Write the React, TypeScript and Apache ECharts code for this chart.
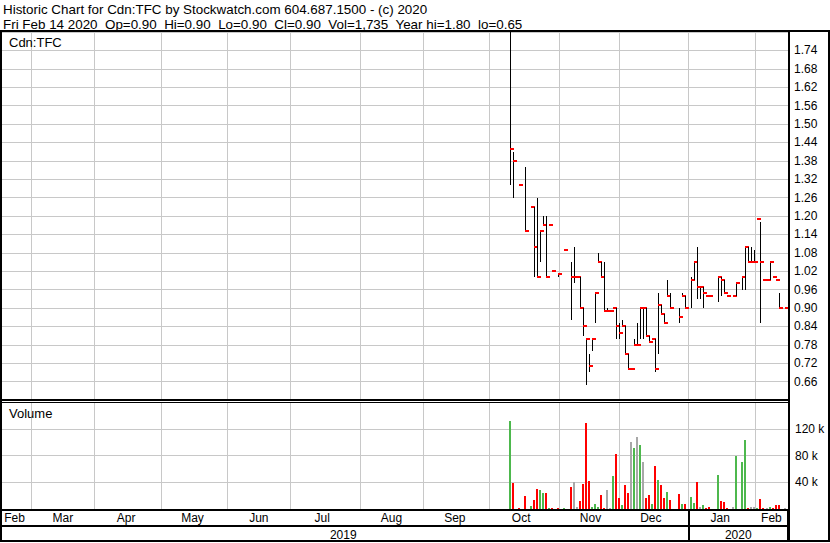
import React, { useEffect, useRef } from 'react';
import * as echarts from 'echarts';

const FONT = '"Liberation Sans", Arial, Helvetica, sans-serif';

const HEADER_LINE_1 = 'Historic Chart for Cdn:TFC by Stockwatch.com 604.687.1500 - (c) 2020';
const HEADER_LINE_2 = 'Fri Feb 14 2020  Op=0.90  Hi=0.90  Lo=0.90  Cl=0.90  Vol=1,735  Year hi=1.80  lo=0.65';
const SYMBOL_LABEL = 'Cdn:TFC';
const VOLUME_LABEL = 'Volume';

const RANGE_START = '2019-02-15';
const RANGE_END = '2020-02-14';
const MONTHS = ['2019-02', '2019-03', '2019-04', '2019-05', '2019-06', '2019-07', '2019-08', '2019-09', '2019-10', '2019-11', '2019-12', '2020-01', '2020-02'];
const MONTH_NAMES = ['Jan', 'Feb', 'Mar', 'Apr', 'May', 'Jun', 'Jul', 'Aug', 'Sep', 'Oct', 'Nov', 'Dec'];
const YEARS = ['2019', '2020'];

const tradeDates = [
  '2019-10-10', '2019-10-11', '2019-10-15', '2019-10-17', '2019-10-21', '2019-10-22', '2019-10-23', '2019-10-24', '2019-10-25', '2019-10-28',
  '2019-10-29', '2019-10-30', '2019-11-01', '2019-11-05', '2019-11-07', '2019-11-08', '2019-11-11', '2019-11-12', '2019-11-13', '2019-11-14',
  '2019-11-15', '2019-11-18', '2019-11-19', '2019-11-20', '2019-11-21', '2019-11-22', '2019-11-25', '2019-11-26', '2019-11-27', '2019-11-28',
  '2019-11-29', '2019-12-02', '2019-12-03', '2019-12-04', '2019-12-05', '2019-12-06', '2019-12-09', '2019-12-10', '2019-12-11', '2019-12-12',
  '2019-12-13', '2019-12-16', '2019-12-17', '2019-12-18', '2019-12-19', '2019-12-20', '2019-12-23', '2019-12-24', '2019-12-27', '2019-12-30',
  '2019-12-31', '2020-01-02', '2020-01-03', '2020-01-06', '2020-01-07', '2020-01-08', '2020-01-09', '2020-01-10', '2020-01-15', '2020-01-16',
  '2020-01-17', '2020-01-20', '2020-01-22', '2020-01-23', '2020-01-27', '2020-01-28', '2020-01-29', '2020-01-30', '2020-01-31', '2020-02-03',
  '2020-02-04', '2020-02-05', '2020-02-06', '2020-02-07', '2020-02-10', '2020-02-11', '2020-02-12', '2020-02-14',
];

const highs = [
  1.80, 1.41, 1.30, 1.36, 1.23, 1.23, 1.26, 1.15, 1.20, 1.20,
  1.17, 1.02, 1.01, 1.09, 1.05, 1.10, 1.00, 1.00, 0.90, 0.80,
  0.75, 0.80, 0.95, 1.08, 1.05, 1.05, 0.90, 0.89, 0.90, 0.90,
  0.85, 0.86, 0.84, 0.75, 0.70, 0.80, 0.85, 0.90, 0.90, 0.90,
  0.81, 0.80, 0.80, 0.95, 0.91, 0.88, 0.99, 0.95, 0.90, 0.95,
  0.94, 1.00, 1.05, 1.10, 0.97, 0.97, 0.94, 0.94, 1.00, 1.00,
  0.99, 0.94, 0.94, 0.98, 1.00, 1.10, 1.10, 1.10, 1.09, 1.19,
  1.18, 0.99, 0.99, 1.05, 1.00, 0.99, 0.95, 0.90,
];

const lows = [
  1.30, 1.26, 1.30, 1.15, 1.23, 1.00, 1.00, 1.05, 1.17, 1.00,
  1.17, 1.02, 1.00, 1.09, 0.86, 0.98, 1.00, 0.90, 0.81, 0.65,
  0.69, 0.76, 0.85, 1.05, 1.00, 0.89, 0.89, 0.89, 0.90, 0.80,
  0.80, 0.84, 0.75, 0.70, 0.70, 0.78, 0.78, 0.80, 0.80, 0.81,
  0.79, 0.80, 0.69, 0.75, 0.88, 0.85, 0.94, 0.90, 0.85, 0.94,
  0.90, 0.90, 0.99, 0.93, 0.93, 0.90, 0.94, 0.94, 0.92, 0.94,
  0.95, 0.94, 0.94, 0.94, 0.96, 0.96, 1.05, 1.05, 1.05, 1.19,
  0.85, 0.99, 0.99, 0.99, 1.00, 0.99, 0.90, 0.90,
];

const closes = [
  1.42, 1.38, 1.30, 1.15, 1.23, 1.10, 1.00, 1.15, 1.17, 1.00,
  1.17, 1.02, 1.01, 1.09, 1.00, 1.00, 1.00, 0.90, 0.84, 0.80,
  0.71, 0.80, 0.95, 1.05, 1.00, 0.89, 0.89, 0.89, 0.90, 0.84,
  0.82, 0.84, 0.75, 0.70, 0.70, 0.78, 0.78, 0.90, 0.90, 0.81,
  0.79, 0.80, 0.70, 0.91, 0.88, 0.85, 0.94, 0.90, 0.87, 0.94,
  0.90, 0.99, 1.05, 0.97, 0.97, 0.95, 0.94, 0.94, 1.00, 0.99,
  0.95, 0.94, 0.94, 0.98, 1.00, 1.10, 1.05, 1.05, 1.05, 1.19,
  1.05, 0.99, 0.99, 1.05, 1.00, 0.99, 0.90, 0.90,
];

const volumes = [
  132000, 39000, 1500, 19000, 4500, 13000, 30000, 28000, 24000, 24000,
  1500, 1500, 1500, 1500, 33000, 40000, 3000, 12000, 37000, 128000,
  42000, 3000, 7500, 3000, 21000, 1500, 28000, 1500, 49000, 82000,
  16000, 6000, 36000, 24000, 100000, 91000, 108000, 95000, 70000, 16000,
  21000, 7500, 65000, 43000, 36000, 16000, 25000, 13000, 22000, 7500,
  7500, 18000, 9000, 40000, 3000, 6000, 1500, 3000, 51000, 12000,
  10000, 1500, 3000, 80000, 71000, 103000, 1500, 3000, 3000, 1500,
  15000, 1500, 1500, 3000, 1500, 6000, 6000, 1735,
];

// daily change direction: 1 up, -1 down, 0 unchanged
const changes = [
  1, -1, -1, -1, 1, -1, -1, 1, 1, -1,
  1, -1, -1, 1, -1, 0, 0, -1, -1, -1,
  -1, 1, 1, 1, -1, -1, 0, 0, 1, -1,
  -1, 1, -1, -1, 0, 1, 0, 1, 0, -1,
  -1, 1, -1, 1, -1, -1, 1, -1, -1, 1,
  -1, 1, 1, -1, 0, 1, -1, -1, 1, -1,
  -1, -1, 0, 1, 1, 1, -1, 0, 0, 1,
  -1, -1, 0, 1, -1, -1, -1, 0,
];

function buildWeekdays(): string[] {
  const out: string[] = [];
  const [sy, sm, sd] = RANGE_START.split('-').map(Number);
  const [ey, em, ed] = RANGE_END.split('-').map(Number);
  const end = Date.UTC(ey, em - 1, ed);
  for (let t = Date.UTC(sy, sm - 1, sd); t <= end; t += 86400000) {
    const d = new Date(t);
    const wd = d.getUTCDay();
    if (wd !== 0 && wd !== 6) out.push(d.toISOString().slice(0, 10));
  }
  return out;
}

function buildOption() {
  const days = buildWeekdays();
  const N = days.length;
  const lastOnOrBefore = (d: string) => {
    let r = 0;
    for (let i = 0; i < N; i++) if (days[i] <= d) r = i;
    return r;
  };
  const boundaries = MONTHS.slice(1).map((ym) => lastOnOrBefore(ym + '-01'));
  const splitSet = new Set(boundaries);
  const spans = [0, ...boundaries, N];
  const monthLabelSet = new Set(
    MONTHS.map((ym, k) => {
      const full = k > 0 && k < MONTHS.length - 1;
      return full ? lastOnOrBefore(ym + '-15') : Math.floor((spans[k] + spans[k + 1] - 1) / 2);
    })
  );
  const yearStart = lastOnOrBefore(YEARS[1] + '-01-01');
  const yearLabelSet = new Set([Math.floor((yearStart - 1) / 2), Math.floor((yearStart + N - 1) / 2)]);

  const priceData = tradeDates.map((d, i) => [days.indexOf(d), highs[i], lows[i], closes[i]]);
  const volumeData = tradeDates.map((d, i) => [days.indexOf(d), volumes[i], changes[i]]);

  const gridColor = '#c8c8c8';
  const splitLine = { show: true, interval: (i: number) => splitSet.has(i), lineStyle: { color: gridColor, width: 1 } };
  const labelStyle = { fontFamily: FONT, fontSize: 12, color: '#000' };

  const rect = (x: number, y: number, w: number, h: number) => ({
    type: 'rect', z: 100, shape: { x, y, width: w, height: h }, style: { fill: '#000' }, silent: true,
  });
  const text = (t: string, x: number, y: number, size: number) => ({
    type: 'text', z: 100, x, y, silent: true,
    style: { text: t, fontFamily: FONT, fontSize: size, fill: '#000', align: 'left', verticalAlign: 'middle' },
  });

  return {
    animation: false,
    backgroundColor: '#fff',
    grid: [
      { left: 1, top: 32, width: 787, height: 368, containLabel: false, outerBoundsMode: 'none' },
      { left: 1, top: 402, width: 787, height: 107, containLabel: false, outerBoundsMode: 'none' },
    ],
    xAxis: [
      {
        type: 'category', gridIndex: 0, data: days, boundaryGap: true,
        axisLine: { show: false }, axisTick: { show: false }, axisLabel: { show: false },
        splitLine,
      },
      {
        type: 'category', gridIndex: 1, data: days, boundaryGap: true, position: 'bottom',
        axisLine: { show: false },
        axisTick: {
          show: true, interval: (i: number) => i === 0 || i === yearStart, length: 32, inside: false,
          lineStyle: { color: '#000', width: 2 },
        },
        axisLabel: {
          show: true, interval: (i: number) => monthLabelSet.has(i), margin: 3, ...labelStyle,
          formatter: (v: string) => MONTH_NAMES[Number(v.slice(5, 7)) - 1],
        },
        splitLine,
      },
      {
        type: 'category', gridIndex: 1, data: days, boundaryGap: true, position: 'bottom', offset: 16,
        axisLine: { show: false }, axisTick: { show: false }, splitLine: { show: false },
        axisLabel: {
          show: true, interval: (i: number) => yearLabelSet.has(i), margin: 4, ...labelStyle,
          formatter: (v: string) => v.slice(0, 4),
        },
      },
    ],
    yAxis: [
      {
        type: 'value', gridIndex: 0, position: 'right', min: 0.6, max: 1.8, interval: 0.06,
        axisLine: { show: false }, axisTick: { show: false },
        axisLabel: { showMinLabel: false, showMaxLabel: false, margin: 6, ...labelStyle, formatter: (v: number) => v.toFixed(2) },
        splitLine: { show: true, lineStyle: { color: gridColor, width: 1 } },
      },
      {
        type: 'value', gridIndex: 1, position: 'right', min: 0, max: 160000, interval: 40000,
        axisLine: { show: false }, axisTick: { show: false },
        axisLabel: { showMinLabel: false, showMaxLabel: false, margin: 7, ...labelStyle, formatter: (v: number) => v / 1000 + ' k' },
        splitLine: { show: true, lineStyle: { color: gridColor, width: 1 } },
      },
    ],
    series: [
      {
        type: 'custom', name: 'Price', xAxisIndex: 0, yAxisIndex: 0, data: priceData,
        encode: { x: 0, y: [1, 2, 3] },
        renderItem: (_p: any, api: any) => {
          const i = api.value(0);
          const top = api.coord([i, api.value(1)]);
          const bot = api.coord([i, api.value(2)]);
          const cl = api.coord([i, api.value(3)]);
          const lx = Math.floor(top[0] - 1.4);
          const children: any[] = [];
          const y1 = Math.round(top[1]);
          const y2 = Math.round(bot[1]);
          if (y2 - y1 >= 1) {
            children.push({ type: 'rect', shape: { x: lx, y: y1, width: 1, height: y2 - y1 }, style: { fill: '#000' } });
          }
          children.push({ type: 'rect', shape: { x: lx, y: Math.round(cl[1]) - 1, width: 4, height: 2 }, style: { fill: '#ff0000' } });
          return { type: 'group', children };
        },
      },
      {
        type: 'custom', name: 'Volume', xAxisIndex: 1, yAxisIndex: 1, data: volumeData,
        encode: { x: 0, y: 1 },
        renderItem: (_p: any, api: any) => {
          const i = api.value(0);
          const dir = api.value(2);
          const p = api.coord([i, api.value(1)]);
          const base = api.coord([i, 0]);
          const lx = Math.floor(p[0] - 1.4);
          const b = Math.round(base[1]);
          const yTop = Math.min(Math.round(p[1]), b - 1);
          const fill = dir > 0 ? '#4db84d' : dir < 0 ? '#ff0000' : '#a8a8a8';
          return { type: 'rect', shape: { x: lx - 1, y: yTop, width: 2, height: b - yTop }, style: { fill } };
        },
      },
    ],
    graphic: [
      text(HEADER_LINE_1, 3, 9, 13.4),
      text(HEADER_LINE_2, 3, 24, 13.4),
      text(SYMBOL_LABEL, 9, 42, 13),
      text(VOLUME_LABEL, 9, 413, 13),
      rect(0, 30, 830, 2),
      rect(0, 30, 2, 512),
      rect(828, 30, 2, 512),
      rect(788, 30, 2, 511),
      rect(0, 399, 790, 2),
      rect(0, 402, 790, 1),
      rect(0, 509, 790, 2),
      rect(0, 525, 790, 2),
      rect(0, 540, 830, 2),
    ],
  };
}

export default function App() {
  const ref = useRef<HTMLDivElement>(null);
  useEffect(() => {
    if (!ref.current) return;
    const chart = echarts.init(ref.current, undefined, { renderer: 'svg' });
    chart.setOption(buildOption() as any);
    return () => chart.dispose();
  }, []);
  return (
    <>
      <style>{'#root svg text { white-space: pre; }'}</style>
      <div ref={ref} style={{ position: 'fixed', left: 0, top: 0, width: 830, height: 543, background: '#fff' }} />
    </>
  );
}
